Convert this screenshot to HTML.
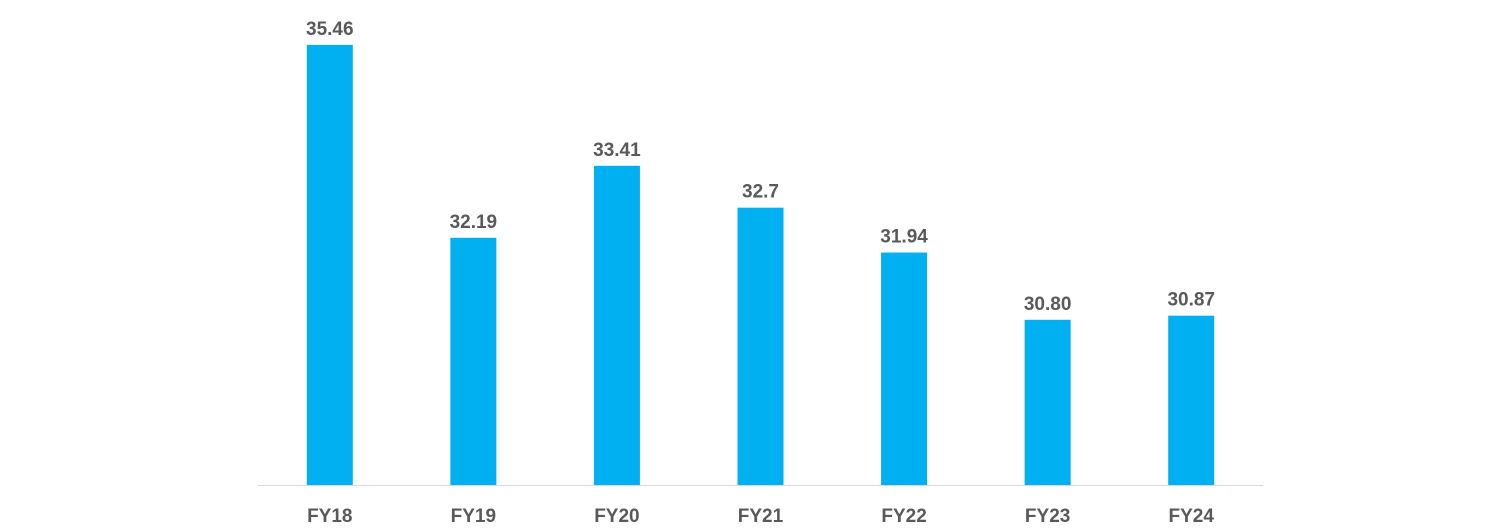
<!DOCTYPE html>
<html><head><meta charset="utf-8"><style>
html,body{margin:0;padding:0;background:#fff;}
svg{display:block;font-family:"Liberation Sans",sans-serif;}
</style></head><body>
<svg id="chart" width="1500" height="532" viewBox="0 0 1500 532">
<line x1="258" y1="485.5" x2="1263" y2="485.5" stroke="#d9d9d9" stroke-width="1"/>
<g id="bars"></g>
</svg>
<script>
const categories = ["FY18","FY19","FY20","FY21","FY22","FY23","FY24"];
const values = [35.46, 32.19, 33.41, 32.7, 31.94, 30.80, 30.87];
const valueLabels = ["35.46","32.19","33.41","32.7","31.94","30.80","30.87"];
const yMin = 28;

const plotLeft = 258, plotRight = 1263, baseY = 485, pxPerUnit = 59;
const band = (plotRight - plotLeft) / categories.length;
const barW = 46;
function xCenter(i){ return plotLeft + band * (i + 0.5); }
function yPos(v){ return baseY - (v - yMin) * pxPerUnit; }

const ns = "http://www.w3.org/2000/svg";
const g = document.getElementById("bars");
categories.forEach((c, i) => {
  const cx = xCenter(i), top = yPos(values[i]);
  const r = document.createElementNS(ns, "rect");
  r.setAttribute("x", cx - barW/2);
  r.setAttribute("y", top);
  r.setAttribute("width", barW);
  r.setAttribute("height", baseY - top);
  r.setAttribute("fill", "#00b0f0");
  
  
  g.appendChild(r);

  const t = document.createElementNS(ns, "text");
  t.setAttribute("x", cx);
  t.setAttribute("y", top - 10);
  t.setAttribute("text-anchor", "middle");
  t.setAttribute("font-size", "19");
  t.setAttribute("font-weight", "bold");
  t.setAttribute("fill", "#595959");
  t.textContent = valueLabels[i];
  
  
  g.appendChild(t);

  const xl = document.createElementNS(ns, "text");
  xl.setAttribute("x", cx);
  xl.setAttribute("y", 522);
  xl.setAttribute("text-anchor", "middle");
  xl.setAttribute("font-size", "19");
  xl.setAttribute("font-weight", "bold");
  xl.setAttribute("fill", "#595959");
  xl.textContent = c;
  
  
  g.appendChild(xl);
});
</script>
</body></html>
